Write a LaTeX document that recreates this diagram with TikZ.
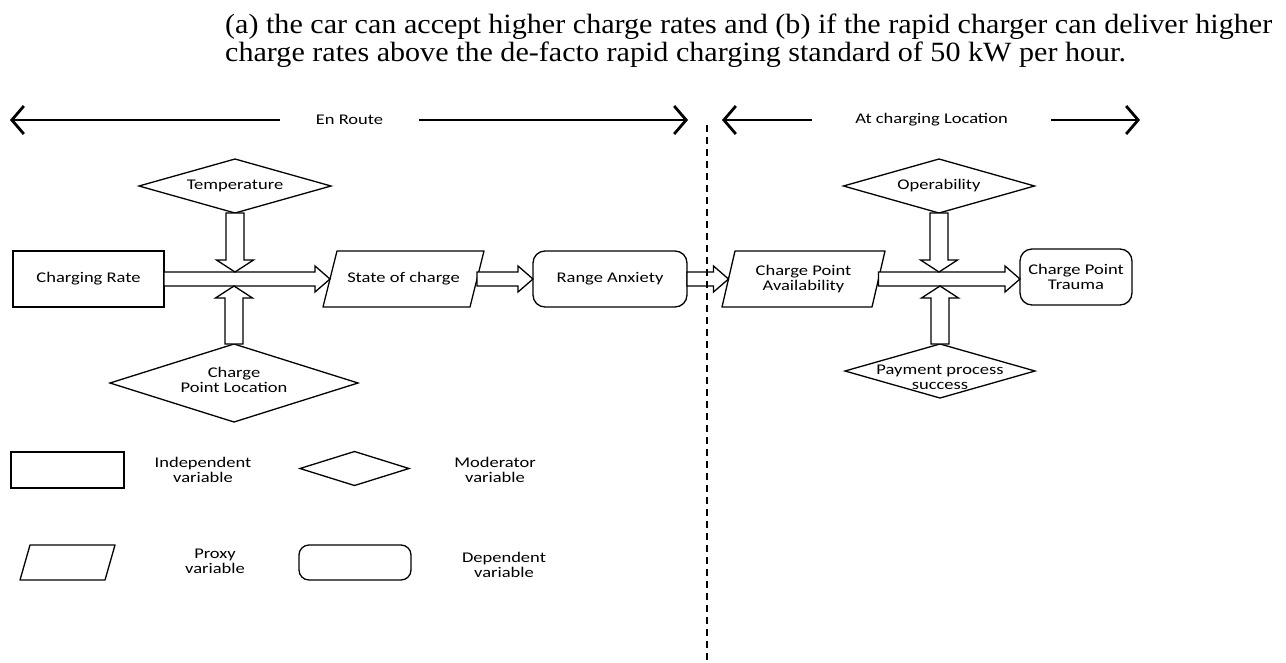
\documentclass[tikz,border=0pt]{standalone}
\usepackage{fontspec}
\usetikzlibrary{shapes.geometric,arrows.meta,calc}
\newfontfamily\diagfont[FakeStretch=1.25]{Carlito}
\newfontfamily\parafont[FakeStretch=1.08]{Liberation Serif}
\newlength\linea
% horizontal hollow block arrow, tip at #2
\newcommand\harr[2]{\path[blk] let \p1=(#1), \p2=(#2) in
  (\x1,{\y1+7pt}) -- ({\x2-15pt},{\y1+7pt}) -- ({\x2-15pt},{\y1+13pt}) -- (\x2,\y1)
  -- ({\x2-15pt},{\y1-13pt}) -- ({\x2-15pt},{\y1-7pt}) -- (\x1,{\y1-7pt}) -- cycle;}
% vertical hollow block arrow pointing down (reference sense)
\newcommand\darr[2]{\path[blk] let \p1=(#1), \p2=(#2) in
  ({\x1-9pt},\y1) -- ({\x1-9pt},{\y2+12pt}) -- ({\x1-18.5pt},{\y2+12pt}) -- (\x1,\y2)
  -- ({\x1+18.5pt},{\y2+12pt}) -- ({\x1+9pt},{\y2+12pt}) -- ({\x1+9pt},\y1) -- cycle;}
% vertical hollow block arrow pointing up
\newcommand\uarr[2]{\path[blk] let \p1=(#1), \p2=(#2) in
  ({\x1-9pt},\y1) -- ({\x1-9pt},{\y2-12pt}) -- ({\x1-18.5pt},{\y2-12pt}) -- (\x1,\y2)
  -- ({\x1+18.5pt},{\y2-12pt}) -- ({\x1+9pt},{\y2-12pt}) -- ({\x1+9pt},\y1) -- cycle;}
% parallelogram outline around a node, slant #2
\newcommand\para[2]{\draw[line width=1.3pt, line join=round]
  ([xshift=#2/2]#1.north west) -- ([xshift=#2/2]#1.north east)
  -- ([xshift=-#2/2]#1.south east) -- ([xshift=-#2/2]#1.south west) -- cycle;}
\begin{document}
\settowidth\linea{\parafont\fontsize{20pt}{24pt}\selectfont (a) the car can accept higher charge rates and (b) if the rapid charger can deliver higher}%
\pgfmathsetmacro\fsz{1047/\linea*20}%
\begin{tikzpicture}[x=1pt,y=-1pt,
  txt/.style={font=\diagfont\fontsize{14.8pt}{15pt}\selectfont, align=center, inner sep=0pt},
  shp/.style={draw, line width=1.3pt, inner sep=0pt, outer sep=0pt},
  rbox/.style={shp, rectangle, txt},
  rrbox/.style={shp, rectangle, rounded corners=12pt, txt},
  pbox/.style={rectangle, inner sep=0pt, outer sep=0pt, txt},
  dmd/.style={shp, diamond},
  blk/.style={draw, line width=1.3pt, fill=white, line join=miter},
  bigarr/.style={line width=2.8pt, -{Straight Barb[length=12pt,width=28pt]}},
  ttl/.style={txt, inner xsep=0pt}
]
\useasboundingbox (0,0) rectangle (1286,662);

% ---- top paragraph
\node[anchor=base west, inner sep=0pt] (p1) at (225,33)
  {\parafont\fontsize{\fsz pt}{29pt}\selectfont (a) the car can accept higher charge rates and (b) if the rapid charger can deliver higher};
\node[anchor=base west, inner sep=0pt] (p2) at (225,61)
  {\parafont\fontsize{\fsz pt}{29pt}\selectfont charge rates above the de-facto rapid charging standard of 50 kW per hour.};

% ---- section headings
\node[ttl, minimum width=139pt] (er) at (349.5,120) {En Route};
\coordinate (erL) at (10,120);
\coordinate (erR) at (688,120);
\draw[bigarr] (er.west) -- (erL);
\draw[bigarr] (er.east) -- (erR);

\node[ttl, minimum width=239pt] (acl) at (931.5,120) {At charging Location};
\coordinate (aclL) at (722,120);
\coordinate (aclR) at (1140,120);
\draw[bigarr] (acl.west) -- (aclL);
\draw[bigarr] (acl.east) -- (aclR);

% ---- main nodes
\node[rbox, minimum width=151pt, minimum height=56pt] (rate) at (88.5,279) {Charging Rate};
\node[pbox, minimum width=147pt, minimum height=56pt] (soc) at (403.5,279) {State of charge};
\para{soc}{14}
\node[rrbox, minimum width=154pt, minimum height=56pt] (ra) at (610,279) {Range Anxiety};
\node[pbox, minimum width=150pt, minimum height=56pt] (cpa) at (803.5,279) {Charge Point\\Availability};
\para{cpa}{13}
\node[rrbox, minimum width=112pt, minimum height=56pt] (cpt) at (1076,277) {Charge Point\\Trauma};

\node[dmd, minimum width=192pt, minimum height=54pt] (temp) at (235,186) {};
\node[txt] (tempT) at (235,186) {Temperature};
\node[dmd, minimum width=248pt, minimum height=78pt] (cpl) at (234,383) {};
\node[txt] (cplT) at (234,380) {Charge\\Point Location};
\node[dmd, minimum width=191pt, minimum height=54pt] (op) at (939,186) {};
\node[txt] (opT) at (939,186) {Operability};
\node[dmd, minimum width=190pt, minimum height=54pt] (pay) at (940,371) {};
\node[txt] (payT) at (940,377) {Payment process\\success};

% ---- block arrows
\harr{rate.east}{soc.west}
\harr{soc.east}{ra.west}
\harr{ra.east}{cpa.west}
\harr{cpa.east}{cpt.west}
\coordinate (tipT) at (235,272);
\coordinate (tipL) at (235,286);
\coordinate (tipO) at (940,272);
\coordinate (tipP) at (940,286);
\darr{temp.south}{tipT}
\uarr{cpl.north}{tipL}
\darr{op.south}{tipO}
\uarr{pay.north}{tipP}

% ---- dashed divider
\coordinate (dtop) at (707,125);
\coordinate (dbot) at (707,662);
\draw[line width=1.3pt, dash pattern=on 7pt off 5pt] (dtop) -- (dbot);

% ---- legend
\node[rbox, minimum width=113pt, minimum height=36pt] (lrect) at (67.5,470) {};
\node[txt] (lt1) at (203,469.5) {Independent\\variable};
\node[dmd, minimum width=109pt, minimum height=34pt] (ldiam) at (354.5,468.5) {};
\node[txt] (lt2) at (495,469.5) {Moderator\\variable};
\node[pbox, minimum width=85pt, minimum height=35pt] (lpar) at (67.5,562.5) {};
\para{lpar}{10}
\node[txt] (lt3) at (215,561.5) {Proxy\\variable};
\node[rrbox, rounded corners=10pt, minimum width=112pt, minimum height=35pt] (lrr) at (355,562.5) {};
\node[txt] (lt4) at (504,565) {Dependent\\variable};
\end{tikzpicture}
\end{document}
